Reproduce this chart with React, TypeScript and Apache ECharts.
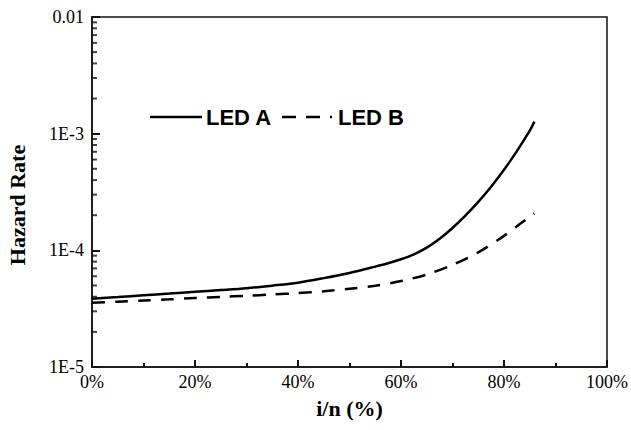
import React, { useEffect, useRef } from "react";
import * as echarts from "echarts";

const ledAX = [0, 5, 10, 15, 20, 25, 30, 35, 40, 45, 50, 55, 57.5, 60, 62.5, 65, 67.5, 70, 72.5, 75, 77.5, 80, 82.5, 85, 85.9];
const ledAY = [3.85e-5, 3.98e-5, 4.12e-5, 4.26e-5, 4.41e-5, 4.56e-5, 4.73e-5, 4.98e-5, 5.28e-5, 5.78e-5, 6.4e-5, 7.25e-5, 7.75e-5, 8.38e-5, 9.23e-5, 1.055e-4, 1.257e-4, 1.553e-4, 1.982e-4, 2.6e-4, 3.51e-4, 4.9e-4, 7.08e-4, 1.06e-3, 1.268e-3];
const ledBX = [0, 5, 10, 15, 20, 25, 30, 35, 40, 45, 50, 55, 60, 65, 70, 75, 80, 83, 85.9];
const ledBY = [3.55e-5, 3.63e-5, 3.72e-5, 3.8e-5, 3.9e-5, 3.99e-5, 4.08e-5, 4.18e-5, 4.3e-5, 4.45e-5, 4.68e-5, 4.97e-5, 5.45e-5, 6.2e-5, 7.5e-5, 9.6e-5, 1.33e-4, 1.67e-4, 2.07e-4];
const yMinorTicks = [2e-5, 3e-5, 4e-5, 5e-5, 6e-5, 7e-5, 8e-5, 9e-5, 2e-4, 3e-4, 4e-4, 5e-4, 6e-4, 7e-4, 8e-4, 9e-4, 2e-3, 3e-3, 4e-3, 5e-3, 6e-3, 7e-3, 8e-3, 9e-3];
const yTickLabels: Record<string, string> = { "-5": "1E-5", "-4": "1E-4", "-3": "1E-3", "-2": "0.01" };
const legendNames = ["LED A", "LED B"];

export default function App() {
  const ref = useRef<HTMLDivElement>(null);
  useEffect(() => {
    if (!ref.current) return;
    const chart = echarts.init(ref.current, undefined, { renderer: "svg" });
    const serif = "Liberation Serif";
    const axisColor = "#111";
    chart.setOption({
      animation: false,
      backgroundColor: "#fff",
      grid: {
        left: 92, right: 24, top: 17, bottom: 63,
        containLabel: false, outerBoundsMode: "none",
        show: true, borderColor: axisColor, borderWidth: 1.5,
      },
      xAxis: {
        type: "value",
        min: 0,
        max: 100,
        interval: 20,
        name: "i/n (%)",
        nameLocation: "middle",
        nameGap: 30,
        nameTextStyle: { fontFamily: serif, fontWeight: "bold", fontSize: 22, color: "#000" },
        axisLine: { lineStyle: { color: axisColor, width: 1.5 } },
        axisTick: { show: true, inside: true, length: 7, lineStyle: { color: axisColor, width: 2 } },
        minorTick: { show: true, splitNumber: 2, length: 4, lineStyle: { color: axisColor, width: 2 } },
        splitLine: { show: false },
        minorSplitLine: { show: false },
        axisLabel: { formatter: "{value}%", fontFamily: serif, fontSize: 18, color: "#000", margin: 6 },
      },
      yAxis: {
        type: "log",
        logBase: 10,
        min: 1e-5,
        max: 1e-2,
        interval: 1,
        name: "Hazard Rate",
        nameLocation: "middle",
        nameGap: 64,
        nameRotate: 90,
        nameTextStyle: { fontFamily: serif, fontWeight: "bold", fontSize: 22, color: "#000", padding: [0, 26, 0, 0] },
        axisLine: { lineStyle: { color: axisColor, width: 1.5 } },
        axisTick: { show: true, inside: true, length: 8, lineStyle: { color: axisColor, width: 2 } },
        splitLine: { show: false },
        axisLabel: {
          fontFamily: serif,
          fontSize: 18,
          color: "#000",
          margin: 8,
          formatter: (v: number) => yTickLabels[String(Math.round(Math.log10(v)))] ?? "",
        },
      },
      graphic: [
        { type: "line", shape: { x1: 150, y1: 117, x2: 202, y2: 117 }, style: { stroke: "#000", lineWidth: 2.5 } },
        { type: "text", x: 206, y: 117, style: { text: legendNames[0], fontFamily: "Liberation Sans", fontWeight: "bold", fontSize: 22, fill: "#000", verticalAlign: "middle" } },
        { type: "line", shape: { x1: 282, y1: 117, x2: 332, y2: 117 }, style: { stroke: "#000", lineWidth: 2.5, lineDash: [14, 10] } },
        { type: "text", x: 338, y: 117, style: { text: legendNames[1], fontFamily: "Liberation Sans", fontWeight: "bold", fontSize: 22, fill: "#000", verticalAlign: "middle" } },
      ],
      series: [
        {
          name: legendNames[0],
          type: "line",
          data: ledAX.map((x, i) => [x, ledAY[i]]),
          showSymbol: false,
          symbol: "none",
          smooth: 0.3,
          lineStyle: { color: "#000", width: 2.5 },
        },
        {
          name: legendNames[1],
          type: "line",
          data: ledBX.map((x, i) => [x, ledBY[i]]),
          showSymbol: false,
          symbol: "none",
          smooth: 0.3,
          lineStyle: { color: "#000", width: 2.5, type: [13, 10] },
        },
        {
          name: "yMinorTicks",
          type: "scatter",
          silent: true,
          clip: false,
          z: 5,
          symbol: "rect",
          symbolSize: [5, 2],
          symbolOffset: [2.5, 0],
          itemStyle: { color: axisColor },
          data: yMinorTicks.map((v) => [0, v]),
        },
      ],
    });
    return () => chart.dispose();
  }, []);
  return <div ref={ref} style={{ width: 631, height: 430, position: "absolute", left: 0, top: 0 }} />;
}
